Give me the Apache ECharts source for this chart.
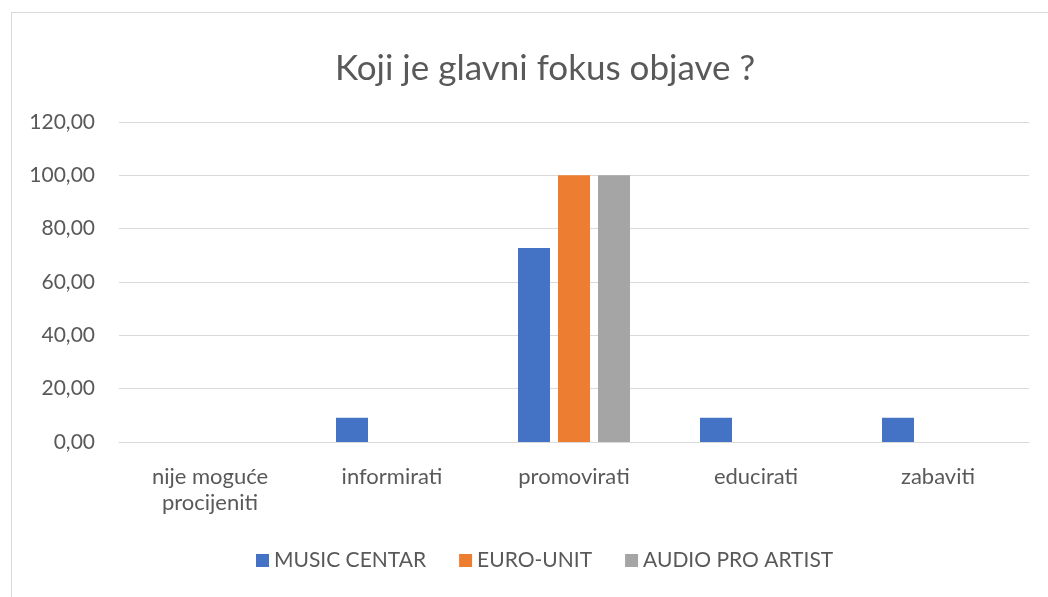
<!DOCTYPE html>
<html>
<head>
<meta charset="utf-8">
<script src="https://cdn.jsdelivr.net/npm/echarts@6/dist/echarts.min.js"></script>
<style>
  html, body { margin: 0; padding: 0; background: #fff; }
  #frame {
    position: absolute; left: 11px; top: 12px; width: 1100px; height: 700px;
    border: 1px solid #d9d9d9; box-sizing: border-box;
  }
  #chart { position: absolute; left: 0; top: 0; width: 1048px; height: 597px; }
</style>
</head>
<body>
<div id="frame"></div>
<div id="chart"></div>
<script>
// kategorije i vrijednosti (postoci)
const categories = ['nije moguće\nprocijeniti', 'informirati', 'promovirati', 'educirati', 'zabaviti']
const musicCentar = [0, 9.09, 72.73, 9.09, 9.09]
const euroUnit = [0, 0, 100, 0, 0]
const audioProArtist = [0, 0, 100, 0, 0]
const seriesNames = ['MUSIC CENTAR', 'EURO-UNIT', 'AUDIO PRO ARTIST']

const font = 'Lato, "Open Sans", sans-serif'
const textColor = '#595959'

const chart = echarts.init(document.getElementById('chart'))

const barStyle = (name, data, color) => ({
  name: name,
  type: 'bar',
  data: data,
  barWidth: 32,
  barGap: '25%',
  itemStyle: { color: color }
})

chart.setOption({
  animation: false,
  title: {
    text: 'Koji je glavni fokus objave ?',
    left: 540,
    textAlign: 'center',
    top: 46,
    textStyle: { fontFamily: font, fontSize: 35, fontWeight: 'normal', color: textColor }
  },
  legend: {
    bottom: 21,
    left: 251,
    itemWidth: 13,
    itemHeight: 13,
    itemGap: 33,
    icon: 'rect',
    textStyle: { fontFamily: font, fontSize: 21, color: textColor },
    data: seriesNames
  },
  grid: { left: 119, right: 19, top: 122, bottom: 155 },
  xAxis: {
    type: 'category',
    data: categories,
    axisLine: { lineStyle: { color: '#d9d9d9', width: 1 } },
    axisTick: { show: false },
    axisLabel: {
      fontFamily: font, fontSize: 22, color: textColor,
      margin: 22, lineHeight: 26, interval: 0
    }
  },
  yAxis: {
    type: 'value',
    min: 0,
    max: 120,
    interval: 20,
    axisLine: { show: false },
    axisTick: { show: false },
    splitLine: { lineStyle: { color: '#d9d9d9', width: 1 } },
    axisLabel: {
      fontFamily: font, fontSize: 21, color: textColor, margin: 24,
      formatter: v => v.toFixed(2).replace('.', ',')
    }
  },
  series: [
    barStyle(seriesNames[0], musicCentar, '#4472c4'),
    barStyle(seriesNames[1], euroUnit, '#ed7d31'),
    barStyle(seriesNames[2], audioProArtist, '#a5a5a5')
  ]
})
</script>
</body>
</html>
